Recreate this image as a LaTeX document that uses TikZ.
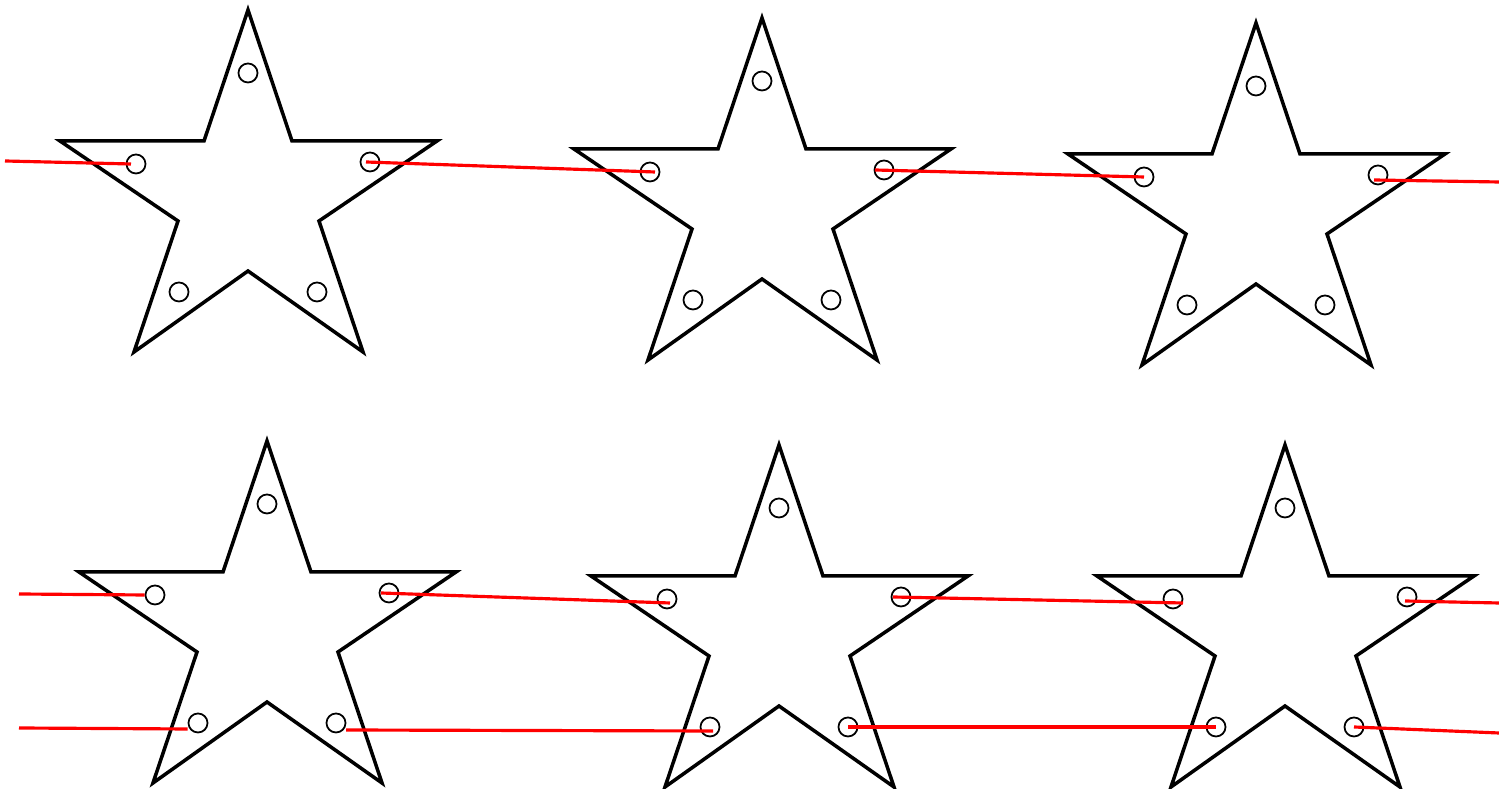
\documentclass[tikz,border=0pt]{standalone}
\usepackage{tikz}

\begin{document}
\begin{tikzpicture}[x=0.01cm,y=-0.01cm,
  starline/.style={line width=1pt,line join=miter},
  hole/.style={circle,draw,line width=0.5pt,minimum size=0.19cm,inner sep=0pt},
  cut/.style={red,line width=0.9pt}]
\path[use as bounding box] (0,0) rectangle (1499,789);
% stars, given by their top tips, with five holes each
\foreach \n/\x/\y in {1/248/10,2/762/18,3/1256/23,4/267/441,5/779/445,6/1285/445} {
  \begin{scope}[shift={(\x,\y)}]
    \draw[starline] (0,0) -- (44,131) -- (189,131) -- (71,211) -- (115,342) -- (0,261)
      -- (-114,342) -- (-70,211) -- (-188,131) -- (-44,131) -- cycle;
    \node[hole] (s\n a) at (0,63) {};
    \node[hole] (s\n b) at (-112,154) {};
    \node[hole] (s\n c) at (122,152) {};
    \node[hole] (s\n d) at (-69,282) {};
    \node[hole] (s\n e) at (69,282) {};
  \end{scope}
}
% free ends at the borders
\coordinate (l1) at (5,161);
\coordinate (l2) at (19,594);
\coordinate (l3) at (19,728);
\coordinate (r1) at (1499,182);
\coordinate (r2) at (1499,603);
\coordinate (r3) at (1499,733);
% red cuts
\draw[cut] (l1) -- ([xshift=-0.05cm]s1b.center);
\draw[cut] ([xshift=-0.04cm]s1c.center) -- ([xshift=0.05cm]s2b.center);
\draw[cut] ([xshift=-0.09cm]s2c.center) -- (s3b.center);
\draw[cut] ([xshift=-0.04cm,yshift=-0.05cm]s3c.center) -- (r1);
\draw[cut] (l2) -- (s4b.west);
\draw[cut] ([xshift=-0.08cm]s4c.center) -- ([xshift=0.03cm,yshift=-0.04cm]s5b.center);
\draw[cut] ([xshift=-0.08cm]s5c.center) -- ([xshift=0.1cm,yshift=-0.04cm]s6b.center);
\draw[cut] ([xshift=-0.02cm,yshift=-0.04cm]s6c.center) -- (r2);
\draw[cut] (l3) -- ([yshift=-0.06cm]s4d.west);
\draw[cut] ([xshift=0.1cm,yshift=-0.07cm]s4e.center) -- ([xshift=0.03cm,yshift=-0.04cm]s5d.center);
\draw[cut] (s5e.center) -- (s6d.center);
\draw[cut] (s6e.center) -- (r3);
\end{tikzpicture}
\end{document}
